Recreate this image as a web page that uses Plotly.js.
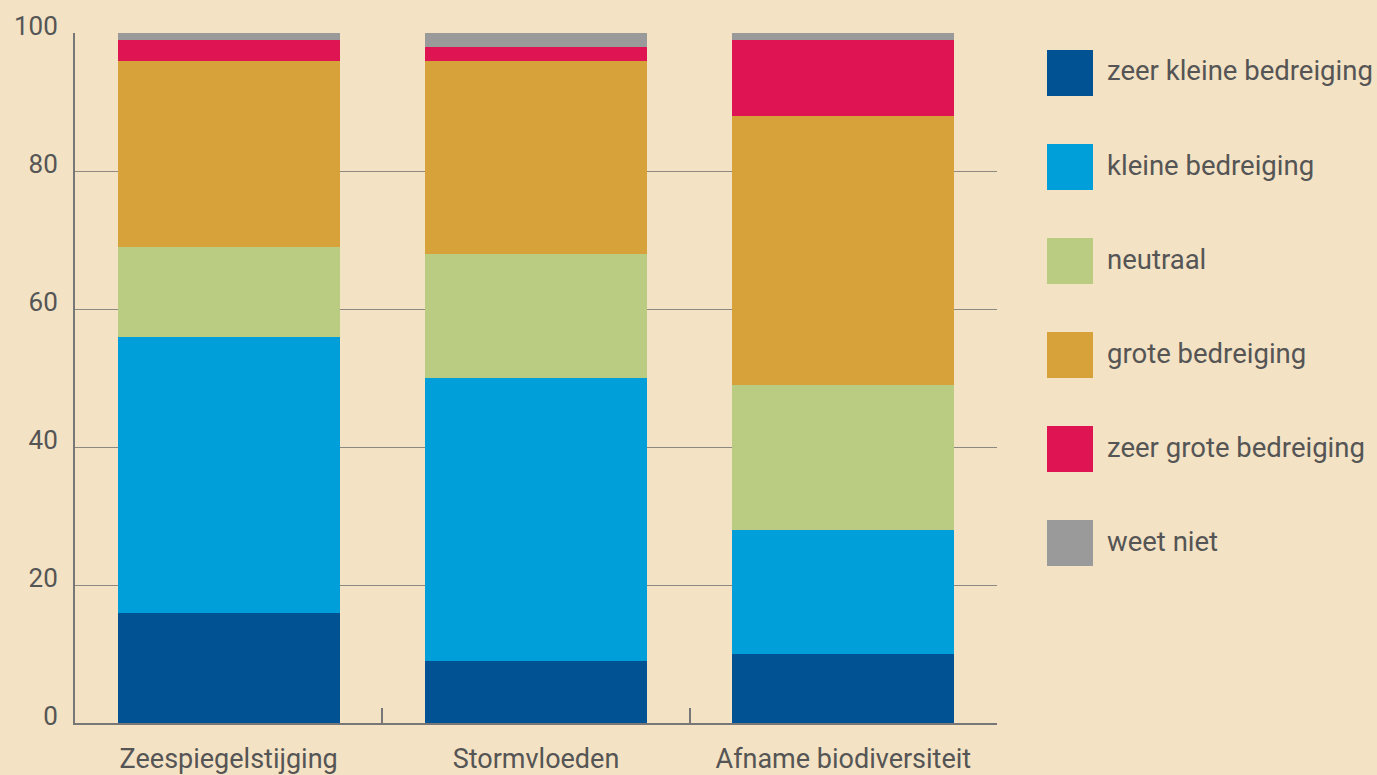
<!DOCTYPE html>
<html>
<head>
<meta charset="utf-8">
<script src="https://cdn.plot.ly/plotly-3.0.1.min.js"></script>
<style>html,body{margin:0;padding:0;background:#F3E2C4;}#chart{width:1377px;height:775px;}</style>
</head>
<body>
<div id="chart"></div>
<script>
const categories = ["Zeespiegelstijging", "Stormvloeden", "Afname biodiversiteit"];
const seriesNames = ["zeer kleine bedreiging", "kleine bedreiging", "neutraal", "grote bedreiging", "zeer grote bedreiging", "weet niet"];
const zeerKlein = [16, 9, 10];
const klein = [40, 41, 18];
const neutraal = [13, 18, 21];
const groot = [27, 28, 39];
const zeerGroot = [3, 2, 11];
const weetNiet = [1, 2, 1];
const yTicks = [0, 20, 40, 60, 80, 100];

const seriesValues = [zeerKlein, klein, neutraal, groot, zeerGroot, weetNiet];
const colors = ["#005293", "#009FDA", "#B9CC82", "#D7A23A", "#DF1453", "#9A9A9A"];

const FONT = "Roboto, 'Noto Sans', sans-serif";
const TXT = "#555555";

const traces = seriesNames.map((name, i) => ({
  type: "bar",
  name: name,
  x: categories,
  y: seriesValues[i],
  marker: {color: colors[i], line: {width: 0}},
  showlegend: false,
  hoverinfo: "x+y+name"
}));

const shapes = [];
const annotations = [];
const legTop = 50, legStep = 94, sq = 46;
seriesNames.forEach((name, i) => {
  const y0 = legTop + i * legStep;
  shapes.push({
    type: "rect", xref: "paper", yref: "paper",
    x0: (1047 - 75) / 922, x1: (1093 - 75) / 922,
    y0: 1 - (y0 + sq - 33) / 690, y1: 1 - (y0 - 33) / 690,
    fillcolor: colors[i], line: {width: 0}
  });
  annotations.push({
    xref: "paper", yref: "paper",
    x: (1105 - 75) / 922, y: 1 - (y0 + sq / 2 - 2 - 33) / 690,
    xanchor: "left", yanchor: "middle",
    text: name, showarrow: false,
    font: {family: FONT, size: 27.5, color: TXT}
  });
});

const layout = {
  width: 1377, height: 775,
  paper_bgcolor: "#F3E2C4", plot_bgcolor: "#F3E2C4",
  margin: {l: 75, r: 380, t: 33, b: 52},
  barmode: "stack",
  bargap: 0.277,
  showlegend: false,
  font: {family: FONT, color: TXT, size: 27},
  xaxis: {
    type: "category",
    tickson: "boundaries",
    ticks: "inside", ticklen: 15, tickwidth: 2, tickcolor: "#777777",
    showline: true, linecolor: "#777777", linewidth: 2,
    showgrid: false,
    tickfont: {family: FONT, size: 27, color: TXT},
    ticklabelstandoff: 11,
    fixedrange: true
  },
  yaxis: {
    range: [0, 100],
    tickvals: yTicks,
    ticktext: yTicks.map(String),
    showline: true, linecolor: "#777777", linewidth: 2,
    showgrid: true, gridcolor: "#8C8A80", gridwidth: 1,
    zeroline: false,
    ticks: "",
    tickfont: {family: FONT, size: 26, color: TXT},
    ticklabelstandoff: 10,
    ticklabelshift: -7,
    fixedrange: true
  },
  shapes: shapes,
  annotations: annotations
};

Plotly.newPlot("chart", traces, layout, {displayModeBar: false, staticPlot: true});
</script>
</body>
</html>
